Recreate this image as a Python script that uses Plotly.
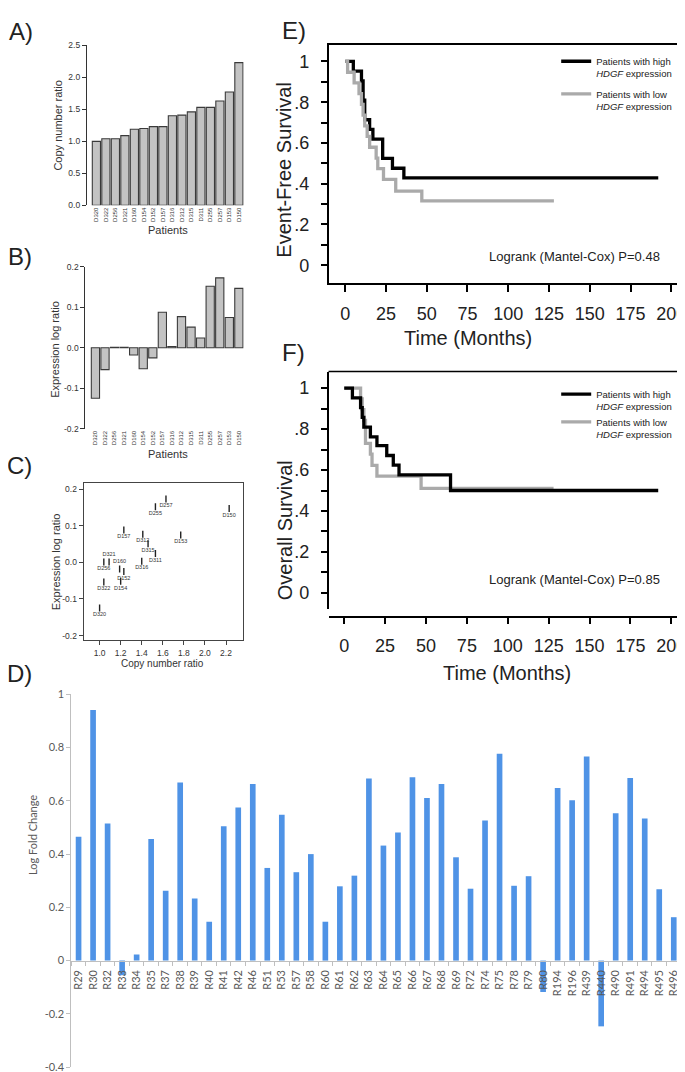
import plotly.graph_objects as go

W, H = 685, 1072

# ---------------- data ----------------
patients = ["D320", "D322", "D256", "D321", "D160", "D154", "D152", "D157",
            "D316", "D312", "D315", "D311", "D255", "D257", "D153", "D150"]
copy_number = [1.00, 1.04, 1.04, 1.09, 1.19, 1.20, 1.23, 1.23,
               1.40, 1.41, 1.46, 1.53, 1.53, 1.63, 1.77, 2.23]
expr_log = [-0.125, -0.054, 0.001, 0.001, -0.018, -0.052, -0.025, 0.088,
            0.003, 0.077, 0.051, 0.024, 0.152, 0.173, 0.075, 0.147]
labels_above = {"D321", "D160"}

regions = ["R29", "R30", "R32", "R33", "R34", "R35", "R37", "R38", "R39", "R40",
           "R41", "R42", "R46", "R51", "R53", "R57", "R58", "R60", "R61", "R62",
           "R63", "R64", "R65", "R66", "R67", "R68", "R69", "R72", "R74", "R75",
           "R78", "R79", "R80", "R194", "R196", "R439", "R440", "R490", "R491",
           "R494", "R495", "R496"]
log_fc = [0.465, 0.941, 0.515, -0.055, 0.023, 0.457, 0.262, 0.669, 0.233, 0.146,
          0.505, 0.575, 0.663, 0.348, 0.548, 0.332, 0.400, 0.146, 0.279, 0.319,
          0.684, 0.432, 0.481, 0.689, 0.611, 0.663, 0.388, 0.270, 0.526, 0.777,
          0.281, 0.317, -0.118, 0.648, 0.602, 0.767, -0.247, 0.553, 0.686,
          0.534, 0.268, 0.163]

efs_high_t = [0, 5, 10, 11, 12, 15, 17, 23, 29, 36, 192]
efs_high_s = [1, 0.952, 0.905, 0.810, 0.714, 0.667, 0.619, 0.524, 0.476, 0.429, 0.429]
efs_low_t = [0, 1.5, 5.5, 8.5, 10, 11, 12, 13.5, 15, 19, 20, 23.5, 31, 47, 128]
efs_low_s = [1, 0.947, 0.895, 0.842, 0.789, 0.737, 0.684, 0.632, 0.579, 0.526,
             0.474, 0.421, 0.364, 0.316, 0.316]

os_high_t = [0, 5, 10, 11, 12, 16, 20, 26, 30, 33.5, 65, 192]
os_high_s = [1, 0.952, 0.905, 0.857, 0.810, 0.762, 0.719, 0.671, 0.624, 0.576, 0.500, 0.500]
os_low_t = [0, 10, 11, 12, 13, 16, 17, 20, 47, 128]
os_low_s = [1, 0.947, 0.895, 0.842, 0.730, 0.678, 0.623, 0.570, 0.510, 0.510]

HIGH_NAME = "Patients with high<br><i>HDGF</i> expression"
LOW_NAME = "Patients with low<br><i>HDGF</i> expression"

a_ticks = [0.0, 0.5, 1.0, 1.5, 2.0, 2.5]
b_ticks = [-0.2, -0.1, 0.0, 0.1, 0.2]
b_ticktext = ["-0.2", "-0.1", "0.0", "0.1", "0.2"]
c_xticks = [1.0, 1.2, 1.4, 1.6, 1.8, 2.0, 2.2]
c_xticktext = ["1.0", "1.2", "1.4", "1.6", "1.8", "2.0", "2.2"]
surv_ticks = [0, 0.2, 0.4, 0.6, 0.8, 1.0]
surv_ticktext = ["0", ".2", ".4", ".6", ".8", "1"]
d_ticks = [-0.4, -0.2, 0, 0.2, 0.4, 0.6, 0.8, 1.0]
d_ticktext = ["-0.4", "-0.2", "0", "0.2", "0.4", "0.6", "0.8", "1"]

# ---------------- helpers ----------------
def fx(p):
    return p / W


def fy(p):
    return 1 - p / H


ARIAL = "Liberation Sans, Arial, sans-serif"
CAL = "Lato, Liberation Sans, sans-serif"
BAR_GRAY = "#c3c3c3"
EDGE = "#3a3a3a"
BLUE = "#4f93e6"
DGRAY = "#333333"

fig = go.Figure()

# A
fig.add_trace(go.Bar(x=patients, y=copy_number, width=0.86,
                     marker=dict(color=BAR_GRAY, line=dict(color=EDGE, width=1.1)),
                     xaxis="x", yaxis="y", showlegend=False))
# B
fig.add_trace(go.Bar(x=patients, y=expr_log, width=0.86,
                     marker=dict(color=BAR_GRAY, line=dict(color=EDGE, width=1.1)),
                     xaxis="x2", yaxis="y2", showlegend=False))
# C
positions = ["top center" if p in labels_above else "bottom center" for p in patients]
fig.add_trace(go.Scatter(x=copy_number, y=expr_log, mode="markers+text", text=patients,
                         textposition=positions,
                         textfont=dict(family=ARIAL, size=5.5, color="#333"),
                         marker=dict(symbol="line-ns", size=5, line=dict(width=1.4, color="#222")),
                         xaxis="x3", yaxis="y3", showlegend=False))
# E
fig.add_trace(go.Scatter(x=efs_high_t, y=efs_high_s, mode="lines",
                         line=dict(shape="hv", color="black", width=3.3),
                         name=HIGH_NAME, legend="legend", legendgroup="eh",
                         xaxis="x4", yaxis="y4"))
fig.add_trace(go.Scatter(x=efs_low_t, y=efs_low_s, mode="lines",
                         line=dict(shape="hv", color="#aaaaaa", width=3.3),
                         name=LOW_NAME, legend="legend", legendgroup="el",
                         xaxis="x4", yaxis="y4"))
# F
fig.add_trace(go.Scatter(x=os_low_t, y=os_low_s, mode="lines",
                         line=dict(shape="hv", color="#aaaaaa", width=3.3),
                         name=LOW_NAME, legend="legend2", legendgroup="fl",
                         xaxis="x5", yaxis="y5"))
fig.add_trace(go.Scatter(x=os_high_t, y=os_high_s, mode="lines",
                         line=dict(shape="hv", color="black", width=3.3),
                         name=HIGH_NAME, legend="legend2", legendgroup="fh",
                         xaxis="x5", yaxis="y5"))
# D
fig.add_trace(go.Bar(x=regions, y=log_fc, width=0.39, marker=dict(color=BLUE, line=dict(width=0)),
                     xaxis="x6", yaxis="y6", showlegend=False))

small_tick = dict(family=ARIAL, size=8.5, color=DGRAY)
big_tick = dict(family=ARIAL, size=18, color="#222")
legend_font = dict(family=ARIAL, size=9.5, color="#222")

fig.update_layout(
    width=W, height=H, autosize=False,
    margin=dict(l=0, r=0, t=0, b=0),
    paper_bgcolor="white", plot_bgcolor="white",
    font=dict(family=ARIAL, color="#222"),
    # A
    xaxis=dict(domain=[fx(79), fx(236)], anchor="y", type="category", range=[-1.0, 15.5],
               tickangle=-90, tickfont=dict(family=ARIAL, size=6, color=DGRAY),
               showline=False, ticks="", showgrid=False, zeroline=False),
    yaxis=dict(domain=[fy(192.7), fy(30.7)], anchor="x", range=[0, 2.5], tickvals=a_ticks,
               tickformat=".1f", showline=True, linecolor=DGRAY, linewidth=1, ticks="outside",
               ticklen=4, tickcolor=DGRAY, tickfont=small_tick, showgrid=False, zeroline=False),
    # B
    xaxis2=dict(domain=[fx(77.5), fx(236)], anchor="y2", type="category", range=[-1.05, 15.5],
                tickangle=-90, tickfont=dict(family=ARIAL, size=6, color=DGRAY),
                showline=False, ticks="", showgrid=False, zeroline=False),
    yaxis2=dict(domain=[fy(418.7), fy(255)], anchor="x2", range=[-0.2, 0.2], tickvals=b_ticks,
                ticktext=b_ticktext, showline=True, linecolor=DGRAY, linewidth=1, ticks="outside",
                ticklen=4, tickcolor=DGRAY, tickfont=small_tick, showgrid=False, zeroline=False),
    # C
    xaxis3=dict(domain=[fx(75.7), fx(235)], anchor="y3", range=[0.848, 2.358], tickvals=c_xticks,
                ticktext=c_xticktext, showline=True, mirror=True, linecolor="#444", linewidth=1,
                ticks="outside", ticklen=4, tickcolor="#444", tickfont=small_tick,
                showgrid=False, zeroline=False),
    yaxis3=dict(domain=[fy(633), fy(474)], anchor="x3", range=[-0.213, 0.216], tickvals=b_ticks,
                ticktext=b_ticktext, showline=True, mirror=True, linecolor="#444", linewidth=1,
                ticks="outside", ticklen=4, tickcolor="#444", tickfont=small_tick,
                showgrid=False, zeroline=False),
    # E
    xaxis4=dict(domain=[fx(321), fx(678)], anchor="y4", range=[-10.2, 208.4], tick0=0, dtick=25,
                showline=True, mirror=True, linecolor="black", linewidth=1.5, ticks="outside",
                ticklen=7, tickwidth=1.5, tickcolor="black", tickfont=big_tick,
                ticklabelstandoff=6, showgrid=False, zeroline=False),
    yaxis4=dict(domain=[fy(271.7), fy(30.7)], anchor="x4", range=[-0.089, 1.079],
                tickvals=surv_ticks, ticktext=surv_ticktext, showline=True, mirror=True,
                linecolor="black", linewidth=1.5, ticks="outside", ticklen=6, tickwidth=1.5,
                tickcolor="black", tickfont=big_tick, ticklabelstandoff=8,
                minor=dict(ticks="outside", dtick=0.1, ticklen=6, tickwidth=1.5, tickcolor="black"),
                showgrid=False, zeroline=False),
    # F
    xaxis5=dict(domain=[fx(321), fx(680)], anchor="free", position=fy(609), range=[-9.6, 209.6],
                tick0=0, dtick=25, showline=True, linecolor="black", linewidth=1.5,
                ticks="outside", ticklen=7, tickwidth=1.5, tickcolor="black", tickfont=big_tick,
                ticklabelstandoff=6, showgrid=False, zeroline=False),
    yaxis5=dict(domain=[fy(601.7), fy(361)], anchor="x5", range=[-0.0806, 1.0806],
                tickvals=surv_ticks, ticktext=surv_ticktext, showline=True, mirror=True,
                linecolor="black", linewidth=1.5, ticks="outside", ticklen=6, tickwidth=1.5,
                tickcolor="black", tickfont=big_tick, ticklabelstandoff=8,
                minor=dict(ticks="outside", dtick=0.1, ticklen=6, tickwidth=1.5, tickcolor="black"),
                showgrid=False, zeroline=False),
    # D
    xaxis6=dict(domain=[fx(63.4), fx(674)], anchor="free", position=fy(957.3), type="category",
                range=[-0.5, 41.5], tickson="boundaries", ticks="outside", ticklen=4,
                tickcolor="#bfbfbf", showline=True, linecolor="#bfbfbf", linewidth=1,
                tickangle=-90, tickfont=dict(family=CAL, size=11, color="#595959"),
                ticklabelstandoff=4, showgrid=False, zeroline=False),
    yaxis6=dict(domain=[fy(1065), fy(687.7)], anchor="x6", range=[-0.4, 1.0], tickvals=d_ticks,
                ticktext=d_ticktext, showline=True, linecolor="#bfbfbf", linewidth=1,
                ticks="outside", ticklen=4, tickcolor="#bfbfbf",
                tickfont=dict(family=CAL, size=11, color="#595959"),
                showgrid=False, zeroline=False),
    legend=dict(x=fx(549), y=fy(34), xanchor="left", yanchor="top", bgcolor="rgba(0,0,0,0)",
                font=legend_font, itemwidth=30, valign="top", tracegroupgap=5),
    legend2=dict(x=fx(549), y=fy(371), xanchor="left", yanchor="top", bgcolor="rgba(0,0,0,0)",
                 font=legend_font, itemwidth=30, valign="top", tracegroupgap=5,
                 traceorder="reversed"),
    showlegend=True,
)

# top border of F (the x-axis line of F sits below the frame)
fig.add_shape(type="line", xref="x5 domain", yref="y5 domain", x0=0, x1=1, y0=1, y1=1,
              line=dict(color="black", width=1.5))


def note(text, x, y, size, angle=0, family=ARIAL, color="#222", xanchor="center"):
    fig.add_annotation(text=text, x=fx(x), y=fy(y), xref="paper", yref="paper",
                       showarrow=False, textangle=angle, xanchor=xanchor, yanchor="middle",
                       font=dict(family=family, size=size, color=color))


# panel letters
note("A)", 13, 17, 24)
note("B)", 12, 244, 24)
note("C)", 12, 456, 24)
note("D)", 12, 667, 24)
note("E)", 286, 16, 24)
note("F)", 286, 342, 24)

# A/B/C axis titles
note("Copy number ratio", 50, 111, 11, angle=-90, color=DGRAY)
note("Patients", 160, 218, 11, color=DGRAY)
note("Expression log ratio", 47, 338, 11, angle=-90, color=DGRAY)
note("Patients", 160, 444, 11, color=DGRAY)
note("Expression log ratio", 48, 553, 11, angle=-90, color=DGRAY)
note("Copy number ratio", 155, 656, 10, color=DGRAY)

# E/F titles
note("Event-Free Survival", 277, 157, 20, angle=-90)
note("Time (Months)", 461, 327, 20)
note("Logrank (Mantel-Cox) P=0.48", 655, 244, 13, xanchor="right")
note("Overall Survival", 277, 522, 20, angle=-90)
note("Time (Months)", 500, 666, 20)
note("Logrank (Mantel-Cox) P=0.85", 655, 571, 13, xanchor="right")

# D title
note("Log Fold Change", 25, 830, 11, angle=-90, family=CAL, color="#595959")

fig.write_html("out.html")
